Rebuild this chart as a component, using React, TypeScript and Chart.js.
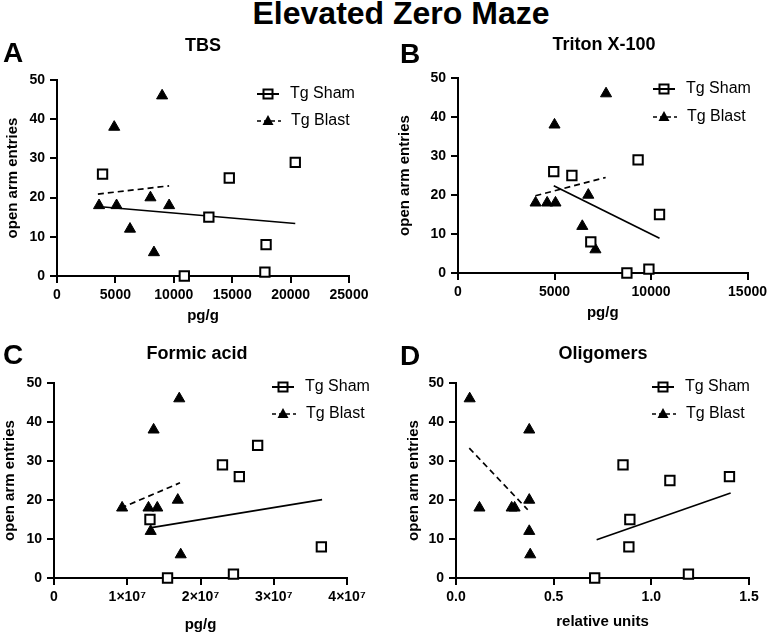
import React, { useEffect, useRef } from "react";
import { Chart, registerables } from "chart.js";

Chart.register(...registerables);

const FONT = "'Liberation Sans', Arial, Helvetica, sans-serif";

// ---------- shared ----------
const mainTitle = "Elevated Zero Maze";
const seriesNames = ["Tg Sham", "Tg Blast"];
const yAxisTitle = "open arm entries";
const yTickValues = [0, 10, 20, 30, 40, 50];
const yTickLabels = ["0", "10", "20", "30", "40", "50"];

// ---------- Panel A : TBS ----------
const tbsTitle = "TBS";
const tbsXTitle = "pg/g";
const tbsXTickValues = [0, 5000, 10000, 15000, 20000, 25000];
const tbsXTickLabels = ["0", "5000", "10000", "15000", "20000", "25000"];
const tbsShamX = [3900, 10900, 13000, 14750, 17900, 17800, 20400];
const tbsShamY = [26, 0, 15, 25, 8, 1, 29];
const tbsBlastX = [3600, 4900, 5100, 6250, 8000, 8300, 9000, 9600];
const tbsBlastY = [18, 38, 18, 12, 20, 6, 46, 18];
const tbsShamFitX = [4000, 20400];
const tbsShamFitY = [17.6, 13.4];
const tbsBlastFitX = [3500, 9600];
const tbsBlastFitY = [20.9, 23.0];

// ---------- Panel B : Triton X-100 ----------
const tritonTitle = "Triton X-100";
const tritonXTitle = "pg/g";
const tritonXTickValues = [0, 5000, 10000, 15000];
const tritonXTickLabels = ["0", "5000", "10000", "15000"];
const tritonShamX = [4960, 5900, 6880, 8750, 9330, 9890, 10440];
const tritonShamY = [26, 25, 8, 0, 29, 1, 15];
const tritonBlastX = [4020, 4620, 5000, 5050, 6440, 6750, 7120, 7670];
const tritonBlastY = [18, 18, 38, 18, 12, 20, 6, 46];
const tritonShamFitX = [4960, 10440];
const tritonShamFitY = [22.4, 8.9];
const tritonBlastFitX = [4010, 7650];
const tritonBlastFitY = [19.8, 24.5];

// ---------- Panel C : Formic acid ----------
const formicTitle = "Formic acid";
const formicXTitle = "pg/g";
const formicXTickValues = [0, 1e7, 2e7, 3e7, 4e7];
const formicXTickLabels = ["0", "1×10⁷", "2×10⁷", "3×10⁷", "4×10⁷"];
const formicShamX = [1.31e7, 1.55e7, 2.3e7, 2.45e7, 2.53e7, 2.78e7, 3.65e7];
const formicShamY = [15, 0, 29, 1, 26, 34, 8];
const formicBlastX = [9.3e6, 1.29e7, 1.32e7, 1.36e7, 1.41e7, 1.69e7, 1.71e7, 1.73e7];
const formicBlastY = [18, 18, 12, 38, 18, 20, 46, 6];
const formicShamFitX = [1.33e7, 3.66e7];
const formicShamFitY = [12.9, 20.1];
const formicBlastFitX = [9.1e6, 1.72e7];
const formicBlastFitY = [17.9, 24.4];

// ---------- Panel D : Oligomers ----------
const oligoTitle = "Oligomers";
const oligoXTitle = "relative units";
const oligoXTickValues = [0, 0.5, 1.0, 1.5];
const oligoXTickLabels = ["0.0", "0.5", "1.0", "1.5"];
const oligoShamX = [0.71, 0.855, 0.89, 0.885, 1.095, 1.19, 1.4];
const oligoShamY = [0, 29, 15, 8, 25, 1, 26];
const oligoBlastX = [0.07, 0.12, 0.285, 0.3, 0.375, 0.375, 0.375, 0.38];
const oligoBlastY = [46, 18, 18, 18, 20, 38, 12, 6];
const oligoShamFitX = [0.72, 1.406];
const oligoShamFitY = [9.8, 21.8];
const oligoBlastFitX = [0.068, 0.367];
const oligoBlastFitY = [33.3, 17.5];

// ---------- layout (page coordinates) ----------
type Layout = {
  left: number; top: number; w: number; h: number;
  areaL: number; areaT: number; areaR: number; areaB: number;
  legX: number; legY1: number; legY2: number;
  letter: string; letterX: number; letterY: number;
  subX: number; subY: number;
};

const layouts: Layout[] = [
  { left: 0, top: 30, w: 385, h: 297, areaL: 57, areaT: 80, areaR: 349, areaB: 276,
    legX: 257, legY1: 94, legY2: 121, letter: "A", letterX: 3, letterY: 53, subX: 203, subY: 45 },
  { left: 392, top: 30, w: 379, h: 294, areaL: 458, areaT: 78, areaR: 750, areaB: 273,
    legX: 653, legY1: 89, legY2: 117, letter: "B", letterX: 400, letterY: 54, subX: 604, subY: 44 },
  { left: -3, top: 330, w: 388, h: 306, areaL: 54, areaT: 383, areaR: 347, areaB: 578,
    legX: 272, legY1: 387, legY2: 414, letter: "C", letterX: 3, letterY: 355, subX: 197, subY: 353 },
  { left: 401, top: 330, w: 370, h: 303, areaL: 456, areaT: 383, areaR: 749, areaB: 578,
    legX: 652, legY1: 387, legY2: 414, letter: "D", letterX: 400, letterY: 356, subX: 603, subY: 353 },
];

type PanelData = {
  title: string; xTitle: string; xMax: number;
  xTickValues: number[]; xTickLabels: string[];
  shamX: number[]; shamY: number[]; blastX: number[]; blastY: number[];
  shamFitX: number[]; shamFitY: number[]; blastFitX: number[]; blastFitY: number[];
};

const panels: PanelData[] = [
  { title: tbsTitle, xTitle: tbsXTitle, xMax: 25000, xTickValues: tbsXTickValues, xTickLabels: tbsXTickLabels,
    shamX: tbsShamX, shamY: tbsShamY, blastX: tbsBlastX, blastY: tbsBlastY,
    shamFitX: tbsShamFitX, shamFitY: tbsShamFitY, blastFitX: tbsBlastFitX, blastFitY: tbsBlastFitY },
  { title: tritonTitle, xTitle: tritonXTitle, xMax: 15000, xTickValues: tritonXTickValues, xTickLabels: tritonXTickLabels,
    shamX: tritonShamX, shamY: tritonShamY, blastX: tritonBlastX, blastY: tritonBlastY,
    shamFitX: tritonShamFitX, shamFitY: tritonShamFitY, blastFitX: tritonBlastFitX, blastFitY: tritonBlastFitY },
  { title: formicTitle, xTitle: formicXTitle, xMax: 4e7, xTickValues: formicXTickValues, xTickLabels: formicXTickLabels,
    shamX: formicShamX, shamY: formicShamY, blastX: formicBlastX, blastY: formicBlastY,
    shamFitX: formicShamFitX, shamFitY: formicShamFitY, blastFitX: formicBlastFitX, blastFitY: formicBlastFitY },
  { title: oligoTitle, xTitle: oligoXTitle, xMax: 1.5, xTickValues: oligoXTickValues, xTickLabels: oligoXTickLabels,
    shamX: oligoShamX, shamY: oligoShamY, blastX: oligoBlastX, blastY: oligoBlastY,
    shamFitX: oligoShamFitX, shamFitY: oligoShamFitY, blastFitX: oligoBlastFitX, blastFitY: oligoBlastFitY },
];

const pts = (xs: number[], ys: number[]) => xs.map((x, i) => ({ x, y: ys[i] }));

function makeLegendPlugin(lay: Layout) {
  return {
    id: "customLegend",
    afterDraw(chart: any) {
      const ctx = chart.ctx as CanvasRenderingContext2D;
      const x0 = lay.legX - lay.left;
      const lineW = 22;
      const mx = x0 + lineW / 2;
      const textX = x0 + 33;
      const y1 = lay.legY1 - lay.top;
      const y2 = lay.legY2 - lay.top;
      ctx.save();
      ctx.strokeStyle = "#000";
      ctx.fillStyle = "#000";
      // Sham row
      ctx.lineWidth = 2;
      ctx.setLineDash([]);
      ctx.beginPath();
      ctx.moveTo(x0, y1);
      ctx.lineTo(x0 + lineW, y1);
      ctx.stroke();
      ctx.strokeRect(mx - 4.5, y1 - 4.5, 9, 9);
      // Blast row
      ctx.lineWidth = 1.6;
      ctx.setLineDash([4, 3]);
      ctx.beginPath();
      ctx.moveTo(x0, y2);
      ctx.lineTo(x0 + lineW + 2, y2);
      ctx.stroke();
      ctx.setLineDash([]);
      ctx.beginPath();
      ctx.moveTo(mx, y2 - 6);
      ctx.lineTo(mx + 5.5, y2 + 4);
      ctx.lineTo(mx - 5.5, y2 + 4);
      ctx.closePath();
      ctx.fill();
      // texts
      ctx.font = `16px ${FONT}`;
      ctx.textBaseline = "middle";
      ctx.textAlign = "left";
      ctx.fillText(seriesNames[0], textX, y1);
      ctx.fillText(seriesNames[1], textX + 1, y2);
      ctx.restore();
    },
  };
}

function Panel({ data, lay }: { data: PanelData; lay: Layout }) {
  const ref = useRef<HTMLCanvasElement>(null);
  useEffect(() => {
    if (!ref.current) return;
    const padTop = lay.areaT - lay.top;
    const padRight = lay.left + lay.w - lay.areaR;
    const yW = lay.areaL - lay.left;
    const xH = lay.top + lay.h - lay.areaB;
    const tickFont = { family: FONT, size: 14, weight: "bold" as const };
    const titleFont = { family: FONT, size: 15, weight: "bold" as const };
    const chart = new Chart(ref.current, {
      type: "scatter",
      data: {
        datasets: [
          {
            label: seriesNames[0],
            data: pts(data.shamX, data.shamY),
            pointStyle: "rect",
            pointRadius: 6.6,
            pointBorderWidth: 2,
            pointBorderColor: "#000",
            pointBackgroundColor: "#fff",
            showLine: false,
            clip: false,
          },
          {
            label: seriesNames[1],
            data: pts(data.blastX, data.blastY),
            pointStyle: "triangle",
            pointRadius: 6.4,
            pointBorderWidth: 1,
            pointBorderColor: "#000",
            pointBackgroundColor: "#000",
            showLine: false,
            clip: false,
          },
          {
            label: seriesNames[0] + " fit",
            data: pts(data.shamFitX, data.shamFitY),
            showLine: true,
            pointRadius: 0,
            borderColor: "#000",
            borderWidth: 1.7,
            clip: false,
          },
          {
            label: seriesNames[1] + " fit",
            data: pts(data.blastFitX, data.blastFitY),
            showLine: true,
            pointRadius: 0,
            borderColor: "#000",
            borderWidth: 1.7,
            borderDash: [6, 4],
            clip: false,
          },
        ],
      },
      options: {
        animation: false,
        responsive: false,
        devicePixelRatio: 1,
        events: [],
        layout: { padding: { left: 0, top: padTop, right: padRight, bottom: 0 } },
        plugins: { legend: { display: false }, tooltip: { enabled: false }, title: { display: false } },
        scales: {
          x: {
            type: "linear",
            min: 0,
            max: data.xMax,
            afterBuildTicks: (s: any) => {
              s.ticks = data.xTickValues.map((v) => ({ value: v }));
            },
            afterFit: (s: any) => {
              s.height = xH;
            },
            ticks: {
              callback: (_v: any, i: number) => data.xTickLabels[i],
              color: "#000",
              font: tickFont,
              padding: 4,
              maxRotation: 0,
              autoSkip: false,
            },
            grid: { drawOnChartArea: false, drawTicks: true, tickLength: 7, tickColor: "#000", tickWidth: 2, lineWidth: 2, color: "#000" },
            border: { display: true, color: "#000", width: 2 },
            title: { display: true, text: data.xTitle, color: "#000", font: titleFont, padding: { top: 0, bottom: 2 } },
          },
          y: {
            type: "linear",
            min: 0,
            max: 50,
            afterBuildTicks: (s: any) => {
              s.ticks = yTickValues.map((v) => ({ value: v }));
            },
            afterFit: (s: any) => {
              s.width = yW;
            },
            ticks: {
              callback: (_v: any, i: number) => yTickLabels[i],
              color: "#000",
              font: tickFont,
              padding: 5,
              autoSkip: false,
            },
            grid: { drawOnChartArea: false, drawTicks: true, tickLength: 7, tickColor: "#000", tickWidth: 2, lineWidth: 2, color: "#000" },
            border: { display: true, color: "#000", width: 2 },
            title: { display: true, text: yAxisTitle, color: "#000", font: titleFont, padding: { top: 4, bottom: 4 } },
          },
        },
      },
      plugins: [makeLegendPlugin(lay)],
    } as any);
    return () => chart.destroy();
  }, []);
  return (
    <>
      <canvas
        ref={ref}
        width={lay.w}
        height={lay.h}
        style={{ position: "absolute", left: lay.left, top: lay.top, width: lay.w, height: lay.h }}
      />
      <div
        style={{
          position: "absolute",
          left: lay.subX - 150,
          top: lay.subY - 9,
          width: 300,
          textAlign: "center",
          fontFamily: FONT,
          fontWeight: "bold",
          fontSize: 18,
          lineHeight: "18px",
          whiteSpace: "nowrap",
        }}
      >
        {data.title}
      </div>
      <div
        style={{
          position: "absolute",
          left: lay.letterX,
          top: lay.letterY - 14,
          fontFamily: FONT,
          fontWeight: "bold",
          fontSize: 28,
          lineHeight: "28px",
        }}
      >
        {lay.letter}
      </div>
    </>
  );
}

export default function App() {
  return (
    <div
      style={{
        position: "absolute",
        left: 0,
        top: 0,
        width: 771,
        height: 635,
        overflow: "hidden",
        background: "#fff",
        color: "#000",
      }}
    >
      <div
        style={{
          position: "absolute",
          left: 401 - 250,
          top: -3,
          width: 500,
          textAlign: "center",
          fontFamily: FONT,
          fontWeight: "bold",
          fontSize: 32,
          lineHeight: "32px",
          whiteSpace: "nowrap",
        }}
      >
        {mainTitle}
      </div>
      {panels.map((p, i) => (
        <Panel key={i} data={p} lay={layouts[i]} />
      ))}
    </div>
  );
}
